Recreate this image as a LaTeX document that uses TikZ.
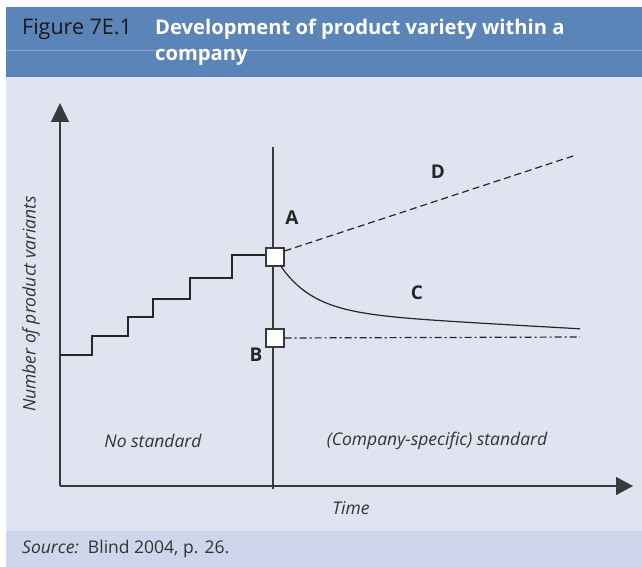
\documentclass[tikz,border=0pt]{standalone}
\usepackage{fontspec}
\setmainfont{Open Sans}
\usepackage{xcolor}
\usetikzlibrary{arrows.meta}
\usetikzlibrary{positioning}
\definecolor{headblue}{HTML}{5B84B8}
\definecolor{headline}{HTML}{86A2C8}
\definecolor{panel}{HTML}{DFE4F0}
\definecolor{srcband}{HTML}{CDD6EA}
\definecolor{ink}{HTML}{3A3A3C}
\tikzset{
  axis/.style={draw=ink,line width=1.3pt},
  curve/.style={draw=black!85,line width=1.2pt},
  marker/.style={draw=ink,fill=white,line width=1.1pt,minimum size=18pt,inner sep=0pt},
  letter/.style={font=\fontsize{19}{19}\selectfont\bfseries,text=black!85},
  region/.style={font=\fontsize{17.5}{20}\selectfont\itshape,text=black!80},
  headtext/.style={anchor=base west,inner sep=0pt,font=\fontsize{21.5}{24}\selectfont}
}
\begin{document}
\begin{tikzpicture}[x=1pt,y=-1pt]
\useasboundingbox (0,0) rectangle (642,567);
\fill[headblue] (6,7) rectangle (642,77);
\draw[headline,line width=0.6pt] (6,50) -- (642,50);
\fill[panel] (6,77) rectangle (642,531);
\fill[srcband] (6,531) rectangle (642,567);
\node[headtext,text=black!90] (fig) at (22,35) {Figure 7E.1};
\node[headtext,text=white,font=\fontsize{20.2}{24}\selectfont\bfseries] (title) at (155,35) {Development of product variety within a};
\node[headtext,text=white,font=\fontsize{20.2}{24}\selectfont\bfseries] (title2) at (155,61) {company};
\node[anchor=west,inner sep=0pt,font=\fontsize{17.5}{20}\selectfont,text=black!80] (src) at (22,549) {\textit{Source:}\ \ Blind 2004, p. 26.};

\coordinate (o) at (60,486);
\coordinate (ytop) at (60,103);
\coordinate (xend) at (633,486);
\draw[axis,-{Triangle[width=18pt,length=19pt]}] (o) -- (ytop);
\draw[axis,-{Triangle[width=18pt,length=17pt]}] (o) -- (xend);
\coordinate (vtop) at (273,147);
\coordinate (vbot) at (273,489);
\draw[axis,line width=1.2pt] (vtop) -- (vbot);

\node[marker] (a) at (275,257) {};
\node[marker] (b) at (275,338) {};
\draw[curve] (60,355) -- (92,355) -- (92,336) -- (128,336) -- (128,317) -- (153,317) -- (153,299) -- (190,299) -- (190,278) -- (232,278) -- (232,255) -- (a.west |- 0,255);
\coordinate (dend) at (576,155);
\draw[curve,dash pattern=on 7pt off 4pt] (a.east) ++(0,-6) -- (dend);
\draw[curve] plot[domain=0:300,samples=90] ({280+\x},{265+47*(1-exp(-\x/33))+0.056*\x});
\coordinate (bend) at (580,337);
\draw[curve,dash pattern=on 7pt off 3pt on 2pt off 3pt] (b.east) -- (bend);

\node[letter] (la) at (292,218) {A};
\node[letter] (lb) at (256,355) {B};
\node[letter] (lc) at (417,293) {C};
\node[letter] (ld) at (438,172) {D};
\node[region] (nostd) at (153,441) {No standard};
\node[region] (cstd) at (437,441) {(Company-specific) standard};
\node[region] (time) at (351,508) {Time};
\node[region,rotate=90] (ylab) at (31,304) {Number of product variants};
\end{tikzpicture}
\end{document}
